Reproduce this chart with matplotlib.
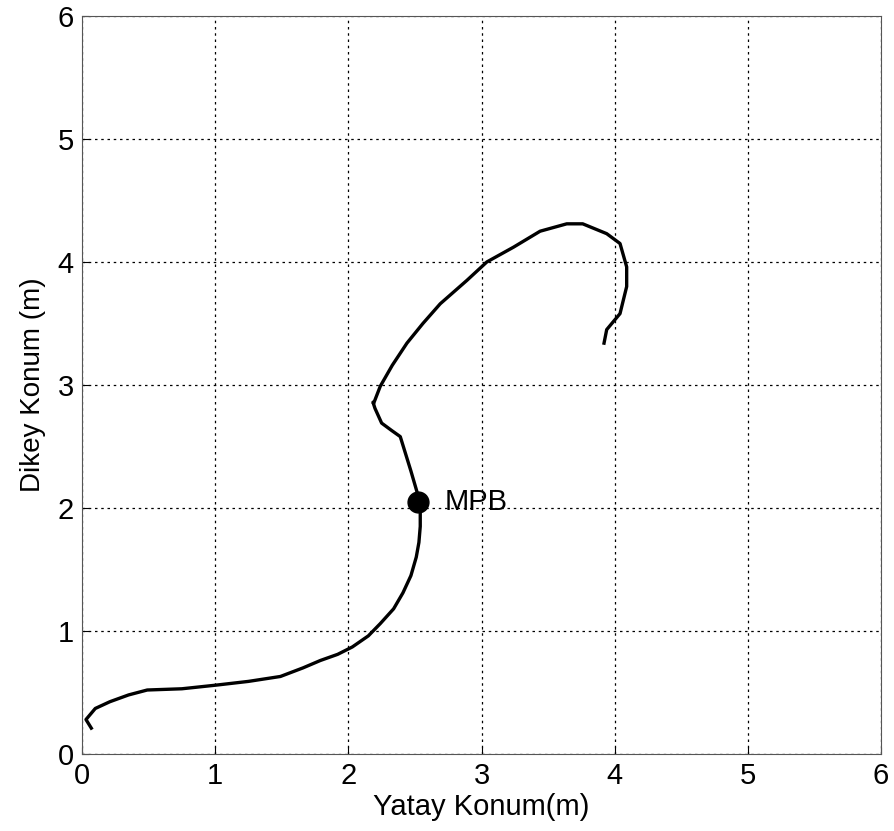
import numpy as np
import matplotlib.pyplot as plt

plt.rcParams['font.family'] = ['Liberation Sans', 'DejaVu Sans']

# path (metres)
path_x = [0.07, 0.03, 0.10, 0.21, 0.35, 0.49, 0.75, 1.01, 1.25, 1.49, 1.66, 1.79,
          1.92, 2.03, 2.15, 2.24, 2.34, 2.41, 2.47, 2.51, 2.53, 2.54, 2.54,
          2.47, 2.39, 2.325, 2.25, 2.20, 2.185, 2.19, 2.24, 2.33, 2.44, 2.56,
          2.69, 2.89, 3.04, 3.24, 3.44, 3.64, 3.76, 3.94, 4.04, 4.09, 4.09,
          4.04, 3.94, 3.92]
path_y = [0.21, 0.28, 0.37, 0.425, 0.48, 0.52, 0.53, 0.56, 0.59, 0.63, 0.70, 0.76,
          0.81, 0.87, 0.96, 1.06, 1.18, 1.31, 1.45, 1.60, 1.72, 1.85, 2.04,
          2.30, 2.58, 2.63, 2.69, 2.81, 2.86, 2.85, 2.99, 3.16, 3.34, 3.50,
          3.66, 3.85, 4.00, 4.12, 4.25, 4.31, 4.31, 4.23, 4.15, 3.96, 3.80,
          3.58, 3.45, 3.34]

mpb_x, mpb_y = 2.52, 2.05
mpb_label = 'MPB'

fig = plt.figure(figsize=(8.95, 8.31), dpi=100)
ax = fig.add_axes([0.0916, 0.0927, 0.8928, 0.8881])

ax.plot(path_x, path_y, color='black', linewidth=2.4)
ax.plot(mpb_x, mpb_y, 'o', color='black', markersize=15)
ax.text(mpb_x + 0.2, mpb_y, mpb_label, fontsize=21, va='center', ha='left')

ax.set_xlim(0, 6)
ax.set_ylim(0, 6)
ax.set_xticks(range(7))
ax.set_yticks(range(7))
ax.grid(True, color='black', linestyle=(0, (2, 3)), linewidth=0.9)
ax.tick_params(direction='in', labelsize=21, length=5, pad=6)
for s in ax.spines.values():
    s.set_color('#555555')

ax.set_xlabel('Yatay Konum(m)', fontsize=21, labelpad=2)
ax.set_ylabel('Dikey Konum (m)', fontsize=20, labelpad=8)

fig.savefig('out.png', dpi=100)
